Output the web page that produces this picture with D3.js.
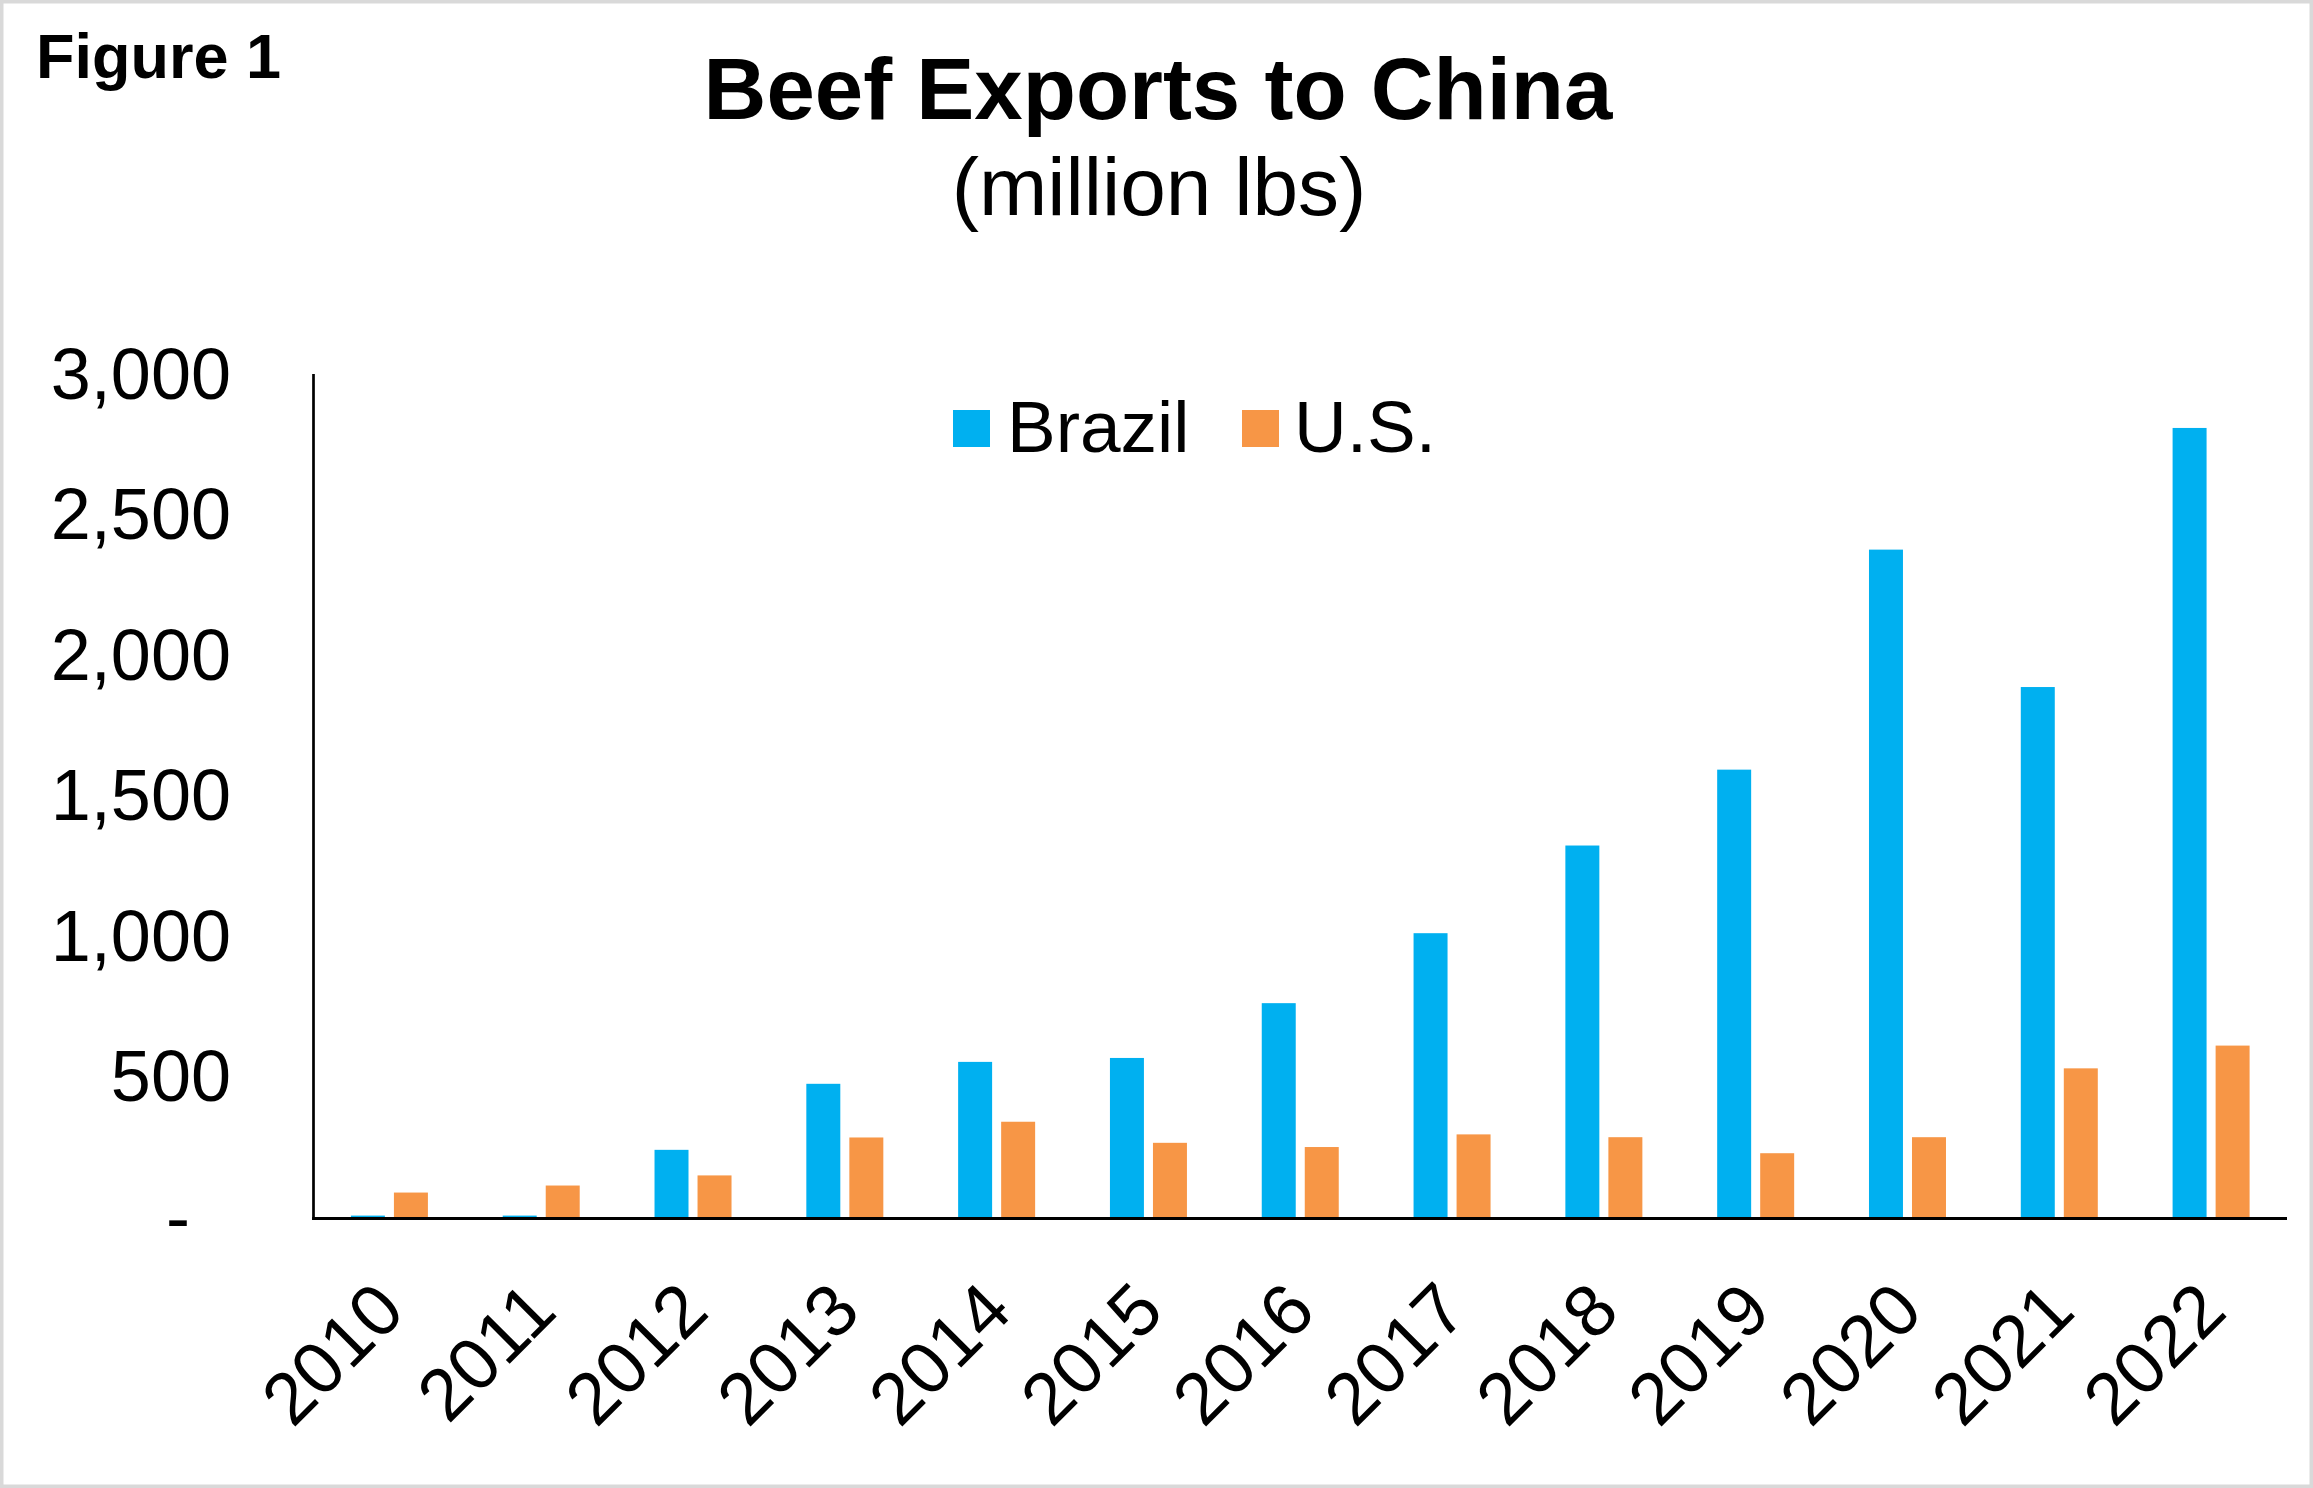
<!DOCTYPE html>
<html>
<head>
<meta charset="utf-8">
<script src="https://cdn.jsdelivr.net/npm/d3@7"></script>
<style>
  body{margin:0;background:#fff;}
  svg text{font-family:"Liberation Sans",Arial,sans-serif;fill:#000;}
</style>
</head>
<body>
<svg id="display" width="2313" height="1488"></svg>
<script>
// data (million lbs)
const years=["2010","2011","2012","2013","2014","2015","2016","2017","2018","2019","2020","2021","2022"];
const series_names=["Brazil","U.S."];
const brazil_values=[5,5,239,474,552,566,761,1010,1322,1592,2375,1886,2808];
const us_values=[87,112,148,283,339,264,249,294,284,227,284,529,610];
const y_tick_values=[0,500,1000,1500,2000,2500,3000];
const series_colors=["#00B0F0","#F79646"];

const display=d3.select("#display");
const width=2313.0
const height=1488.0

// outer frame
display.append("rect")
    .attr("x",1.75)
    .attr("y",1.75)
    .attr("width",width-3.5)
    .attr("height",height-3.5)
    .attr("fill","#fff")
    .attr("stroke","#D9D9D9")
    .attr("stroke-width",3.5);

// plot area
const plot_left=313.5
const plot_right=2287.0
const plot_top=374.0
const plot_bottom=1217.0

const x0=d3.scaleBand()
    .domain(years)
    .range([plot_left,plot_right])
    .paddingInner(0)
    .paddingOuter(0);

const pair_width=77.0
const x1=d3.scaleBand()
    .domain(series_names)
    .range([(x0.bandwidth()-pair_width)/2,(x0.bandwidth()+pair_width)/2])
    .paddingInner(0.21)
    .paddingOuter(0);

const y=d3.scaleLinear()
    .domain([0,3000])
    .range([plot_bottom,plot_top]);

// bars
const value_lists=[brazil_values,us_values];
series_names.forEach(function(name,i){
    display.append("g")
        .attr("class","series_"+i)
        .selectAll("rect")
        .data(years)
        .join("rect")
        .attr("x",function(d){return x0(d)+x1(name);})
        .attr("y",function(d,j){return y(value_lists[i][j]);})
        .attr("width",x1.bandwidth())
        .attr("height",function(d,j){return y(0)-y(value_lists[i][j]);})
        .attr("fill",series_colors[i]);
});

// y axis
const y_axis=d3.axisLeft(y)
    .tickValues(y_tick_values)
    .tickSize(0)
    .tickPadding(82.5)
    .tickFormat(function(d){return d===0?"-":d3.format(",")(d);});

const y_axis_g=display.append("g")
    .attr("transform","translate("+plot_left+",0)")
    .call(y_axis);
y_axis_g.select(".domain").remove();
y_axis_g.selectAll("text")
    .style("font-size","72px")
    .attr("dy","0.34em")
    .attr("dx",function(d){return d===0?-41:0;});

display.append("line")
    .attr("x1",plot_left)
    .attr("y1",plot_top)
    .attr("x2",plot_left)
    .attr("y2",plot_bottom+3)
    .attr("stroke","#000")
    .attr("stroke-width",2.7);

// x axis
const x_axis=d3.axisBottom(x0)
    .tickSize(0)
    .tickPadding(0);
const x_axis_g=display.append("g")
    .attr("transform","translate(0,"+plot_bottom+")")
    .call(x_axis);
x_axis_g.select(".domain").remove();
x_axis_g.selectAll("text")
    .style("font-size","73px")
    .style("text-anchor","end")
    .attr("y",0)
    .attr("dy","0.35em")
    .attr("transform","translate(0,79) rotate(-45)");

display.append("line")
    .attr("x1",plot_left-1.35)
    .attr("y1",plot_bottom+1.5)
    .attr("x2",plot_right)
    .attr("y2",plot_bottom+1.5)
    .attr("stroke","#000")
    .attr("stroke-width",3);

// titles
display.append("text")
    .attr("x",36)
    .attr("y",78)
    .style("font-size","63px")
    .style("font-weight","bold")
    .text("Figure 1");

display.append("text")
    .attr("x",1158)
    .attr("y",119)
    .style("font-size","87px")
    .style("font-weight","bold")
    .style("text-anchor","middle")
    .text("Beef Exports to China");

display.append("text")
    .attr("x",1159)
    .attr("y",215)
    .style("font-size","82px")
    .style("text-anchor","middle")
    .text("(million lbs)");

// legend
const legend_items=[
    {swatch_x:953,text_x:1007},
    {swatch_x:1242,text_x:1294}
];
series_names.forEach(function(name,i){
    display.append("rect")
        .attr("x",legend_items[i].swatch_x)
        .attr("y",410)
        .attr("width",37)
        .attr("height",37)
        .attr("fill",series_colors[i]);
    display.append("text")
        .attr("x",legend_items[i].text_x)
        .attr("y",452)
        .style("font-size","73px")
        .text(name);
});
</script>
</body>
</html>
